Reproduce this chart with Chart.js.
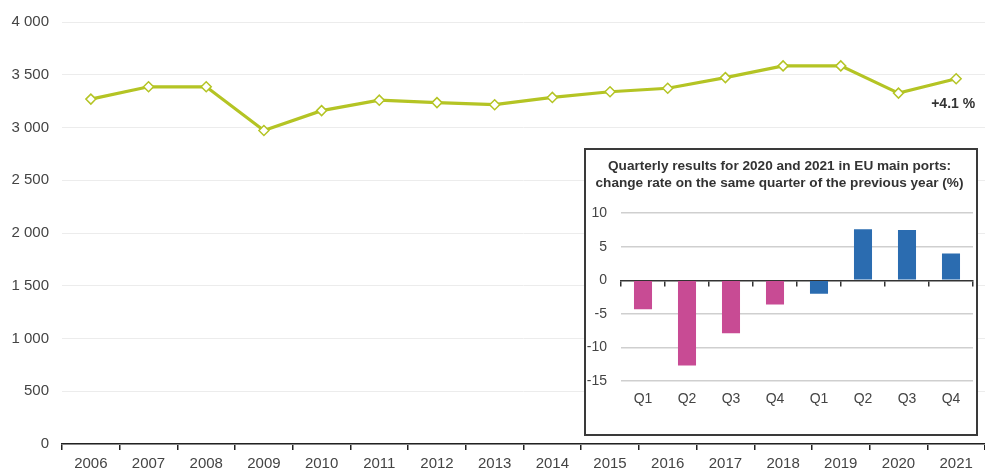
<!DOCTYPE html>
<html>
<head>
<meta charset="utf-8">
<script src="https://cdn.jsdelivr.net/npm/chart.js@4.4.1/dist/chart.umd.min.js"></script>
<style>
  html, body { margin: 0; padding: 0; background: #fff; }
  #wrap { position: relative; width: 985px; height: 473px; }
  #mainChart { position: absolute; left: 0; top: 0; }
  #insetBox { position: absolute; left: 584px; top: 148px; width: 394px; height: 288px; box-sizing: border-box; border: 2px solid #3a3a3a; background: #fff; }
  #insetChart { position: absolute; left: 0; top: 0; }
</style>
</head>
<body>
<div id="wrap">
  <canvas id="mainChart" width="985" height="473"></canvas>
  <div id="insetBox"><canvas id="insetChart" width="390" height="284"></canvas></div>
</div>
<script>
// annual totals (main line)
const years = ['2006','2007','2008','2009','2010','2011','2012','2013','2014','2015','2016','2017','2018','2019','2020','2021'];
const totals = [3269, 3386, 3386, 2972, 3160, 3259, 3236, 3216, 3285, 3339, 3372, 3473, 3584, 3584, 3326, 3462];
const lastChange = '+4.1 %';

// quarterly change rates (inset)
const quarters = ['Q1','Q2','Q3','Q4','Q1','Q2','Q3','Q4'];
const quarterYears = ['2020','2020','2020','2020','2021','2021','2021','2021'];
const quarterChange = [-4.3, -12.7, -7.9, -3.6, -2.0, 7.6, 7.5, 4.0];
const insetTitle = ['Quarterly results for 2020 and 2021 in EU main ports:', 'change rate on the same quarter of the previous year (%)'];

const GREEN = '#b4c424';
const yearColor = { '2020': '#c84b94', '2021': '#2b6cb0' };
const txt = '#444';
const fmt = v => String(v).replace(/\B(?=(\d{3})+(?!\d))/g, ' ');

const endLabel = {
  id: 'endLabel',
  afterDatasetsDraw(chart) {
    const pts = chart.getDatasetMeta(0).data;
    const p = pts[pts.length - 1];
    const c = chart.ctx;
    c.save();
    c.font = 'bold 14px "Liberation Sans", Arial, sans-serif';
    c.fillStyle = '#333';
    c.textAlign = 'right';
    c.textBaseline = 'middle';
    c.fillText(lastChange, p.x + 19, p.y + 25);
    c.restore();
  }
};

new Chart(document.getElementById('mainChart'), {
  type: 'line',
  data: {
    labels: years,
    datasets: [{
      data: totals,
      borderColor: GREEN,
      borderWidth: 3.2,
      tension: 0,
      pointStyle: 'rectRot',
      pointRadius: 5,
      pointBackgroundColor: '#fff',
      pointBorderColor: GREEN,
      pointBorderWidth: 1.5
    }]
  },
  options: {
    responsive: false,
    animation: false,
    layout: { autoPadding: false, padding: { top: 19, right: 0 } },
    plugins: { legend: { display: false }, tooltip: { enabled: false } },
    scales: {
      x: {
        offset: true,
        grid: { offset: true, drawOnChartArea: false, tickLength: 6, color: '#222', lineWidth: 1.5 },
        border: { color: '#222', width: 1.5 },
        ticks: { color: txt, font: { size: 15, family: '"Liberation Sans", Arial' }, padding: 5, maxRotation: 0 },
        afterFit: s => { s.height = 29; }
      },
      y: {
        min: 0, max: 4000,
        ticks: { stepSize: 500, color: txt, font: { size: 15, family: '"Liberation Sans", Arial' }, padding: 13, callback: v => fmt(v) },
        grid: { color: '#ececec', drawTicks: false },
        border: { display: false },
        afterFit: s => { s.width = 62; }
      }
    }
  },
  plugins: [endLabel]
});

new Chart(document.getElementById('insetChart'), {
  type: 'bar',
  data: {
    labels: quarters,
    datasets: [{
      data: quarterChange,
      backgroundColor: quarterYears.map(y => yearColor[y]),
      barPercentage: 0.41,
      categoryPercentage: 1
    }]
  },
  options: {
    responsive: false,
    animation: false,
    layout: { padding: { right: 3 } },
    plugins: {
      legend: { display: false },
      tooltip: { enabled: false },
      title: {
        display: true,
        text: insetTitle,
        color: '#333',
        font: { size: 13.6, weight: 'bold', family: '"Liberation Sans Narrow", "Arial Narrow", "Liberation Sans", Arial', lineHeight: 1.22 },
        padding: { top: 8, bottom: 22 }
      }
    },
    scales: {
      x: {
        grid: { display: false },
        border: { display: false },
        ticks: { color: txt, font: { size: 14, family: '"Liberation Sans", Arial' }, padding: 2 },
        afterFit: s => { s.height = 53; }
      },
      zero: {
        type: 'category',
        axis: 'x',
        position: { y: 0 },
        offset: true,
        grid: { offset: true, drawOnChartArea: false, tickLength: 5, color: '#333', lineWidth: 1.5 },
        border: { color: '#333', width: 1.5 },
        ticks: { display: false }
      },
      y: {
        min: -15, max: 10,
        ticks: { stepSize: 5, color: txt, font: { size: 14, family: '"Liberation Sans", Arial' }, padding: 14 },
        grid: { drawTicks: false, color: c => c.tick.value === 0 ? 'rgba(0,0,0,0)' : '#cfcfcf', lineWidth: 1.5 },
        border: { display: false },
        afterFit: s => { s.width = 35; }
      }
    }
  }
});
</script>
</body>
</html>
